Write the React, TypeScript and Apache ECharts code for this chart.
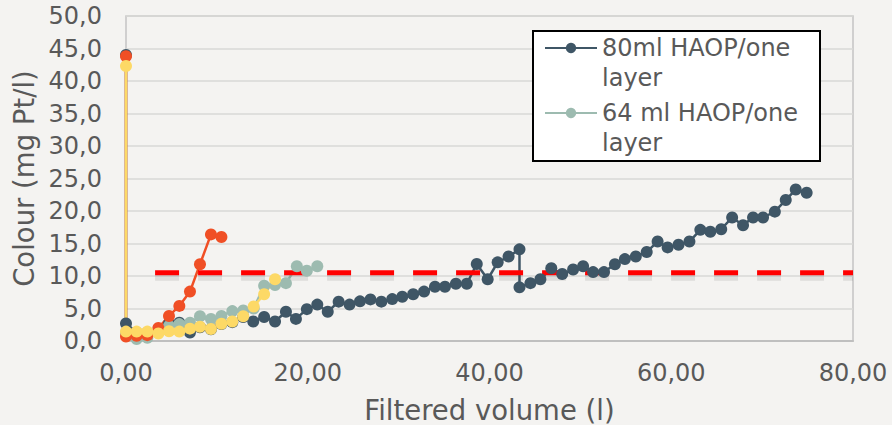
import React, { useEffect, useRef } from "react";
import * as echarts from "echarts";

const FONT = "DejaVu Sans";
const TEXT = "#595959";

const xTicks = [0, 20, 40, 60, 80];
const yTicks = [0, 5, 10, 15, 20, 25, 30, 35, 40, 45, 50];

const seriesNames = ["80ml HAOP/one layer", "64 ml HAOP/one layer", "Series 3", "Series 4", "Limit"];

const dark80: [number, number][] = [
  [0, 44.0], [0, 2.7], [1.17, 1.3], [2.35, 1.3], [3.56, 1.5], [4.73, 2.7], [5.87, 2.8], [7.04, 1.3],
  [8.14, 2.1], [9.35, 1.8], [10.5, 2.6], [11.7, 2.9], [12.9, 3.7], [14.0, 3.0], [15.2, 3.7],
  [16.4, 3.0], [17.6, 4.5], [18.7, 3.4], [19.9, 4.9], [21.05, 5.6], [22.2, 4.5], [23.4, 6.05],
  [24.6, 5.6], [25.75, 6.1], [26.9, 6.4], [28.1, 6.05], [29.3, 6.45], [30.4, 6.8], [31.6, 7.2],
  [32.8, 7.6], [34.0, 8.35], [35.1, 8.35], [36.3, 8.8], [37.5, 8.8], [38.6, 11.85], [39.8, 9.5],
  [40.9, 12.1], [42.1, 13.0], [43.3, 14.1], [43.3, 8.25], [44.5, 8.9], [45.6, 9.5], [46.8, 11.2],
  [48.0, 10.3], [49.2, 11.0], [50.3, 11.5], [51.4, 10.6], [52.6, 10.6], [53.8, 11.8], [54.9, 12.6],
  [56.1, 13.0], [57.3, 13.7], [58.5, 15.3], [59.6, 14.4], [60.8, 14.8], [62.0, 15.3], [63.2, 17.1],
  [64.3, 16.8], [65.5, 17.2], [66.7, 19.0], [67.9, 17.8], [69.0, 19.0], [70.1, 19.0], [71.4, 19.9],
  [72.6, 21.7], [73.7, 23.3], [74.9, 22.8],
];

const gray64: [number, number][] = [
  [0, 1.2], [1.17, 0.3], [2.35, 0.5], [3.56, 1.3], [4.73, 2.3], [5.87, 2.6], [7.04, 2.8],
  [8.14, 3.8], [9.35, 3.4], [10.5, 3.85], [11.7, 4.6], [12.9, 4.7], [14.05, 5.0], [15.2, 8.5],
  [16.4, 8.6], [17.6, 8.9], [18.8, 11.5], [19.9, 10.8], [21.05, 11.5],
];

const orange3: [number, number][] = [
  [0, 43.8], [0, 0.7], [1.17, 0.8], [2.35, 0.9], [3.56, 2.0], [4.73, 3.85], [5.87, 5.4],
  [7.04, 7.6], [8.14, 11.8], [9.35, 16.4], [10.5, 16.0],
];

const yellow4: [number, number][] = [
  [0, 42.3], [0, 1.45], [1.17, 1.45], [2.35, 1.45], [3.56, 1.15], [4.73, 1.5], [5.87, 1.45],
  [7.04, 1.9], [8.14, 2.2], [9.35, 1.85], [10.5, 2.65], [11.7, 3.0], [12.9, 3.8], [14.05, 5.3],
  [15.2, 7.2], [16.4, 9.5],
];

const limitLine: [number, number][] = [[3.2, 10.5], [80, 10.5]];

const colors = ["#3f5666", "#9dbbb0", "#f04f25", "#fdd966", "#ff0000"];

function lineSeries(name: string, data: [number, number][], color: string) {
  return {
    name,
    type: "line",
    data,
    symbol: "circle",
    symbolSize: 12,
    showSymbol: true,
    itemStyle: { color },
    lineStyle: { color, width: 2.5 },
    emphasis: { disabled: true },
  };
}

const hiddenAxis = {
  type: "value",
  show: false,
  axisLine: { show: false },
  axisTick: { show: false },
  axisLabel: { show: false },
  splitLine: { show: false },
};

export default function App() {
  const ref = useRef<HTMLDivElement>(null);
  useEffect(() => {
    if (!ref.current) return;
    const chart = echarts.init(ref.current, undefined, { renderer: "svg" });
    chart.setOption({
      animation: false,
      backgroundColor: "#f4f3f1",
      textStyle: { fontFamily: FONT },
      grid: [
        {
          left: 126,
          top: 16,
          width: 727,
          height: 325,
          show: true,
          containLabel: false,
          outerBoundsMode: "none",
          borderColor: "#c4c4c4",
          borderWidth: 1.5,
          backgroundColor: "transparent",
        },
        {
          left: 126,
          top: 21,
          width: 727,
          height: 325,
          show: false,
          containLabel: false,
          outerBoundsMode: "none",
        },
      ],
      graphic: [
        {
          type: "rect",
          left: 532,
          top: 30,
          z: 3,
          shape: { width: 287, height: 130 },
          style: { fill: "#ffffff", stroke: "#000000", lineWidth: 2 },
        },
      ],
      legend: {
        data: [seriesNames[0], seriesNames[1]],
        orient: "vertical",
        left: 544,
        top: 3,
        padding: 0,
        itemGap: -25,
        itemWidth: 52,
        itemHeight: 13,
        selectedMode: false,
        z: 5,
        formatter: (name: string) => {
          const i = name.lastIndexOf(" ");
          return "\n" + name.slice(0, i) + "\n" + name.slice(i + 1);
        },
        textStyle: {
          fontFamily: FONT,
          fontSize: 24,
          lineHeight: 30,
          color: TEXT,
        },
      },
      xAxis: [
        {
          type: "value",
          min: xTicks[0],
          max: xTicks[xTicks.length - 1],
          interval: 20,
          name: "Filtered volume (l)",
          nameLocation: "middle",
          nameGap: 55,
          nameTextStyle: { fontFamily: FONT, fontSize: 27.5, color: TEXT },
          axisLine: { show: true, lineStyle: { color: "#bfbfbf", width: 2 } },
          axisTick: { show: false },
          splitLine: { show: false },
          axisLabel: {
            fontFamily: FONT,
            fontSize: 24,
            color: TEXT,
            margin: 20,
            formatter: (v: number) => v.toFixed(2).replace(".", ","),
          },
        },
        { ...hiddenAxis, gridIndex: 1, min: xTicks[0], max: xTicks[xTicks.length - 1] },
      ],
      yAxis: [
        {
          type: "value",
          min: yTicks[0],
          max: yTicks[yTicks.length - 1],
          interval: 5,
          name: "Colour (mg Pt/l)",
          nameLocation: "middle",
          nameGap: 88,
          nameTextStyle: { fontFamily: FONT, fontSize: 27.5, color: TEXT },
          axisLine: { show: false },
          axisTick: { show: false },
          splitLine: { show: true, lineStyle: { color: "#d9d8d6", width: 1.5 } },
          axisLabel: {
            fontFamily: FONT,
            fontSize: 24,
            color: TEXT,
            margin: 24,
            formatter: (v: number) => v.toFixed(1).replace(".", ","),
          },
        },
        { ...hiddenAxis, gridIndex: 1, min: yTicks[0], max: yTicks[yTicks.length - 1] },
      ],
      series: [
        lineSeries(seriesNames[0], dark80, colors[0]),
        lineSeries(seriesNames[1], gray64, colors[1]),
        lineSeries(seriesNames[2], orange3, colors[2]),
        lineSeries(seriesNames[3], yellow4, colors[3]),
        {
          name: "Limit shadow",
          type: "line",
          xAxisIndex: 1,
          yAxisIndex: 1,
          data: limitLine,
          symbol: "none",
          silent: true,
          lineStyle: { color: "rgba(0,0,0,0.09)", width: 6, type: [24, 19] },
          emphasis: { disabled: true },
        },
        {
          name: seriesNames[4],
          type: "line",
          data: limitLine,
          symbol: "none",
          lineStyle: { color: colors[4], width: 5, type: [24, 19] },
          emphasis: { disabled: true },
        },
      ],
    });
    return () => chart.dispose();
  }, []);
  return (
    <div
      ref={ref}
      style={{ position: "absolute", left: 0, top: 0, width: 892, height: 425 }}
    />
  );
}
